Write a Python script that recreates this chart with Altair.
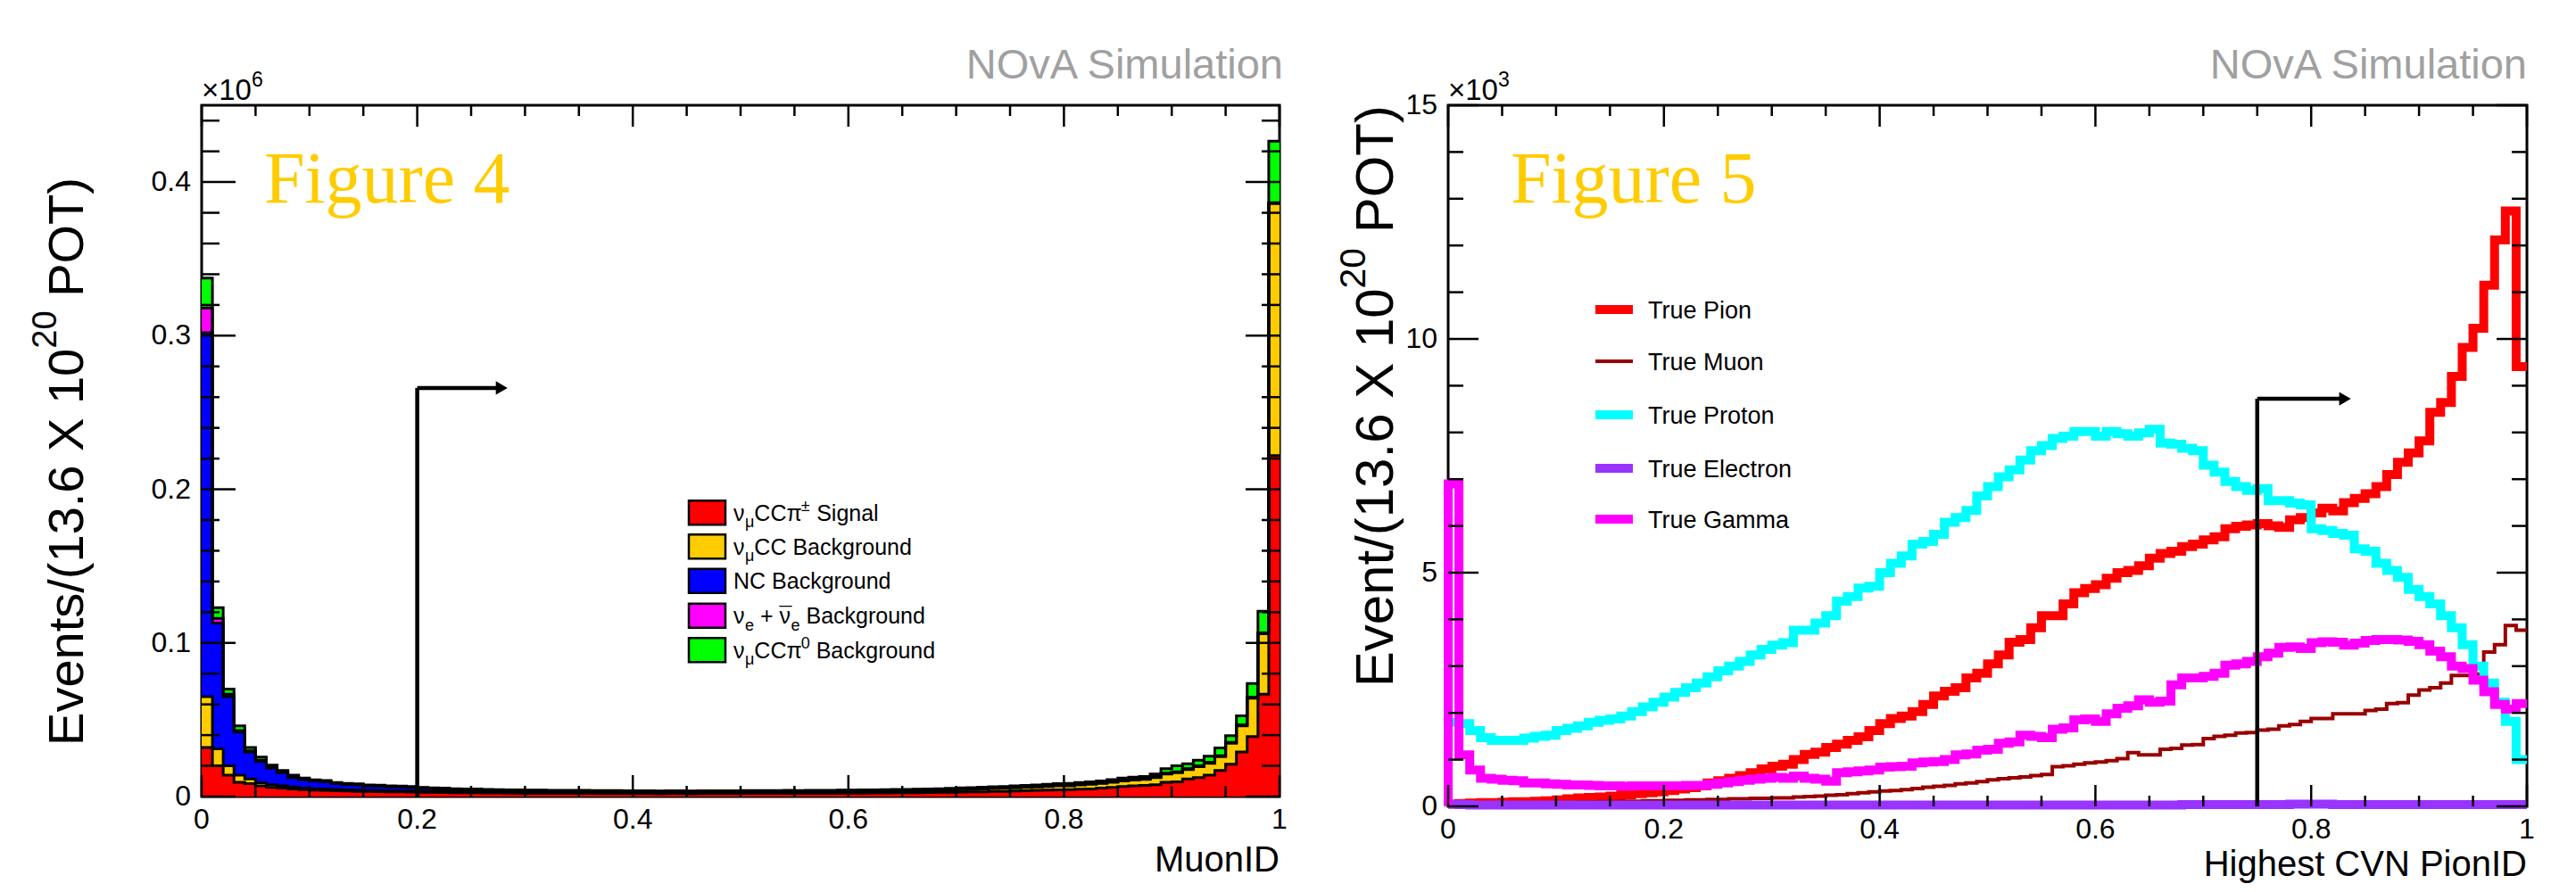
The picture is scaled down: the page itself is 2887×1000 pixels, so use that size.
import altair as alt
import pandas as pd

SANS = "Liberation Sans"
SERIF = "Liberation Serif"

# ---------------- Figure 4 : MuonID, stacked (units of 1e6 events per 0.01 bin)
muonid_bins = [round(i * 0.01, 2) for i in range(100)]
signal = [.032, .020, .014, .0093, .0084, .007, .006, .0055, .005, .0045,
          .0042, .004, .0038, .0036, .0034, .0033, .0032, .0031, .003, .0029,
          .0028, .0027, .0026, .0025, .0024, .0024, .0023, .0023, .0022, .0022,
          .0021, .0021, .0021, .002, .002, .002, .002, .0019, .0019, .0019,
          .0019, .0019, .0018, .0019, .0019, .0018, .0019, .0019, .0019, .0019,
          .002, .002, .002, .002, .0021, .002, .0021, .0021, .0021, .0022,
          .0022, .0022, .0023, .0023, .0024, .0024, .0025, .0026, .0027, .0028,
          .0029, .003, .0031, .0033, .0034, .0036, .0038, .004, .0042, .0044,
          .0045, .0048, .005, .0055, .006, .0065, .007, .0072, .0077, .0093,
          .0096, .0115, .0124, .014, .017, .021, .029, .039, .0666, .222]
numu_cc = [.033, .011, .006, .0047, .0031, .002, .0017, .0015, .0012, .001,
           .0009, .0009, .0008, .0008, .0008, .0007, .0007, .0007, .0007, .0007,
           .0006, .0006, .0006, .0006, .0006, .0006, .0006, .0005, .0006, .0006,
           .0006, .0006, .0005, .0006, .0006, .0006, .0005, .0006, .0006, .0006,
           .0006, .0006, .0006, .0006, .0006, .0006, .0006, .0006, .0006, .0006,
           .0006, .0006, .0007, .0007, .0007, .0007, .0008, .0008, .0008, .0009,
           .0009, .001, .001, .0011, .0011, .0012, .0013, .0013, .0014, .0015,
           .0016, .0017, .0018, .0019, .002, .0021, .0022, .0023, .0024, .0025,
           .0025, .0027, .003, .003, .0033, .0037, .0038, .004, .0047, .0053,
           .0059, .0061, .0071, .0077, .009, .0137, .017, .025, .0394, .164]
nc_bkg = [.237, .082, .045, .028, .0175, .014, .0109, .0085, .0062, .0055,
          .005, .0048, .0038, .0035, .0034, .003, .0029, .0026, .0025, .0023,
          .002, .0019, .0017, .0015, .0014, .0013, .0012, .0012, .0011, .0011,
          .001, .001, .001, .001, .0009, .0009, .0009, .0009, .0009, .0008,
          .0008, .0008, .0008, .0008, .0008, .0008, .0008, .0008, .0008, .0008,
          .0008, .0008, .0007, .0007, .0007, .0007, .0007, .0007, .0007, .0006,
          .0006, .0006, .0006, .0006, .0006, .0005, .0005, .0005, .0005, .0005,
          .0005, .0005, .0005, .0005, .0004, .0004, .0004, .0004, .0004, .0004,
          .0004, .0004, .0004, .0004, .0004, .0004, .0004, .0004, .0004, .0004,
          .0004, .0004, .0004, .0004, .0004, .0004, .0004, .0004, .0004, .0004]
nue_bkg = [.016, .003, .0016, .001, .0008, .0006, .0005, .0004, .0003, .0003,
           .0002, .0002, .0002, .0002, .0002, .0002, .0002, .0002, .0002, .0002,
           .0002, .0002, .0002, .0002, .0002, .0002, .0002, .0002, .0002, .0002,
           .0002, .0002, .0002, .0002, .0002, .0002, .0002, .0002, .0002, .0002,
           .0002, .0002, .0002, .0002, .0002, .0002, .0002, .0002, .0002, .0002,
           .0002, .0002, .0002, .0002, .0002, .0002, .0002, .0002, .0002, .0002,
           .0002, .0002, .0002, .0002, .0002, .0002, .0002, .0002, .0002, .0002,
           .0002, .0002, .0002, .0002, .0002, .0002, .0002, .0002, .0002, .0002,
           .0002, .0002, .0002, .0002, .0002, .0002, .0002, .0002, .0002, .0002,
           .0002, .0002, .0002, .0002, .0002, .0002, .0002, .0002, .0002, .0002]
numu_pi0 = [.0195, .007, .0034, .003, .0022, .0021, .0013, .0011, .0013, .0007,
            .0006, .0006, .0005, .0005, .0005, .0004, .0004, .0004, .0004, .0004,
            .0004, .0003, .0004, .0003, .0003, .0004, .0003, .0003, .0003, .0003,
            .0003, .0003, .0003, .0003, .0003, .0003, .0003, .0003, .0003, .0003,
            .0003, .0003, .0003, .0003, .0003, .0003, .0003, .0003, .0003, .0003,
            .0003, .0003, .0003, .0003, .0003, .0003, .0003, .0003, .0003, .0003,
            .0003, .0003, .0003, .0003, .0003, .0003, .0003, .0003, .0003, .0003,
            .0004, .0004, .0005, .0005, .0005, .0006, .0006, .0007, .0008, .0009,
            .001, .001, .001, .001, .0012, .0013, .0012, .0013, .0016, .003,
            .004, .0031, .0035, .004, .005, .0043, .006, .009, .014, .040]
stack_names = ["signal", "numucc", "nc", "nue", "pi0"]
stack_colors = ["#ff0000", "#ffcc00", "#0000ff", "#ff00ff", "#00ff00"]
left_cut = 0.2
left_arrow_y = 0.266
left_arrow_tip = 0.285
left_x_ticks = [0, 0.2, 0.4, 0.6, 0.8, 1.0]
left_x_labels = ["0", "0.2", "0.4", "0.6", "0.8", "1"]
left_y_ticks = [0, 0.1, 0.2, 0.3, 0.4]
left_y_labels = ["0", "0.1", "0.2", "0.3", "0.4"]

# ---------------- Figure 5 : Highest CVN PionID (units of 1e3 events per 0.01 bin)
pion_bins = [round(i * 0.01, 2) for i in range(100)]
pion = [.05, .06, .07, .08, .08, .09, .10, .10, .11, .12,
        .14, .16, .18, .19, .20, .22, .25, .27, .29, .31,
        .34, .37, .40, .44, .50, .55, .60, .66, .72, .80,
        .86, .90, 1.0, 1.11, 1.16, 1.26, 1.33, 1.41, 1.49, 1.62,
        1.77, 1.88, 1.93, 2.03, 2.18, 2.36, 2.46, 2.54, 2.75, 2.85,
        3.05, 3.24, 3.51, 3.57, 3.82, 4.08, 4.08, 4.33, 4.57, 4.66,
        4.74, 4.88, 5.0, 5.05, 5.15, 5.31, 5.41, 5.46, 5.56, 5.61,
        5.70, 5.77, 5.94, 5.99, 6.02, 6.05, 6.0, 5.97, 6.13, 6.18,
        6.28, 6.38, 6.32, 6.5, 6.59, 6.69, 6.84, 7.1, 7.36, 7.56,
        7.82, 8.43, 8.64, 9.2, 9.82, 10.23, 11.15, 12.12, 12.74, 9.41]
muon = [.03, .04, .04, .05, .05, .05, .06, .06, .07, .07,
        .08, .08, .09, .09, .10, .10, .11, .11, .12, .12,
        .13, .13, .14, .14, .15, .15, .16, .16, .17, .17,
        .18, .18, .20, .21, .22, .24, .25, .27, .29, .31,
        .33, .34, .36, .38, .41, .43, .45, .48, .50, .53,
        .57, .59, .61, .63, .66, .68, .85, .87, .90, .93,
        .95, .98, 1.02, 1.15, 1.10, 1.10, 1.22, 1.24, 1.31, 1.32,
        1.45, 1.50, 1.52, 1.57, 1.58, 1.63, 1.65, 1.72, 1.75, 1.82,
        1.88, 1.88, 1.98, 1.98, 1.98, 2.05, 2.08, 2.20, 2.22, 2.38,
        2.49, 2.54, 2.64, 2.80, 2.80, 2.83, 3.30, 3.46, 3.87, 3.77]
proton = [1.80, 1.77, 1.62, 1.47, 1.41, 1.41, 1.41, 1.46, 1.50, 1.52,
          1.62, 1.67, 1.72, 1.80, 1.84, 1.87, 1.93, 2.03, 2.13, 2.23,
          2.34, 2.44, 2.54, 2.64, 2.77, 2.90, 3.00, 3.10, 3.24, 3.36,
          3.45, 3.50, 3.77, 3.77, 3.92, 4.08, 4.39, 4.49, 4.67, 4.71,
          5.0, 5.2, 5.36, 5.61, 5.67, 5.82, 6.08, 6.18, 6.33, 6.64,
          6.84, 7.05, 7.2, 7.41, 7.61, 7.72, 7.87, 7.92, 8.02, 8.02,
          7.92, 8.02, 7.97, 7.92, 7.99, 8.07, 7.77, 7.75, 7.66, 7.61,
          7.3, 7.15, 6.95, 6.84, 6.76, 6.8, 6.54, 6.54, 6.49, 6.45,
          5.94, 5.9, 5.84, 5.8, 5.51, 5.46, 5.2, 5.05, 4.9, 4.64,
          4.49, 4.33, 4.08, 3.82, 3.46, 3.0, 2.64, 2.23, 1.82, 1.0]
electron = [.05, .04, .03, .03, .03, .03, .03, .03, .03, .03,
            .03, .03, .03, .03, .03, .03, .03, .03, .03, .03,
            .03, .03, .03, .03, .03, .03, .03, .03, .03, .03,
            .03, .03, .03, .03, .03, .03, .03, .03, .03, .03,
            .03, .03, .03, .03, .03, .03, .03, .03, .03, .03,
            .03, .03, .03, .03, .03, .03, .03, .03, .03, .03,
            .03, .03, .03, .03, .03, .03, .03, .03, .04, .04,
            .04, .04, .04, .04, .04, .04, .04, .04, .05, .05,
            .05, .05, .04, .04, .04, .04, .04, .04, .04, .04,
            .04, .04, .04, .04, .04, .04, .04, .04, .04, .04]
gamma = [6.9, 1.1, .78, .6, .58, .56, .55, .5, .5, .48,
         .47, .46, .46, .45, .44, .44, .43, .44, .44, .44,
         .44, .44, .45, .45, .47, .5, .53, .56, .58, .6,
         .62, .6, .65, .6, .58, .54, .72, .74, .76, .78,
         .84, .85, .86, .93, .95, .96, 1.0, 1.1, 1.12, 1.2,
         1.22, 1.35, 1.38, 1.52, 1.5, 1.47, 1.65, 1.68, 1.85, 1.87,
         1.82, 1.98, 2.1, 2.15, 2.28, 2.23, 2.25, 2.6, 2.75, 2.75,
         2.78, 2.85, 3.02, 3.05, 3.1, 3.2, 3.28, 3.4, 3.41, 3.38,
         3.5, 3.52, 3.51, 3.45, 3.49, 3.55, 3.57, 3.57, 3.56, 3.53,
         3.46, 3.32, 3.2, 3.0, 2.95, 2.7, 2.45, 2.18, 2.08, 2.2]
series_names = ["True Pion", "True Muon", "True Proton", "True Electron", "True Gamma"]
series_colors = ["#ff0000", "#990000", "#00ffff", "#9933ff", "#ff00ff"]
series_widths = [10, 4, 10, 10, 10]
right_cut = 0.75
right_arrow_y = 8.72
right_arrow_tip = 0.838
right_x_ticks = [0, 0.2, 0.4, 0.6, 0.8, 1.0]
right_x_labels = ["0", "0.2", "0.4", "0.6", "0.8", "1"]
right_y_ticks = [0, 5, 10, 15]
right_y_labels = ["0", "5", "10", "15"]

# ---------------- layout (pixels)
W1, H1, Y1MAX = 1208, 775, 0.45
W2, H2, Y2MAX = 1209, 786, 15.0
TOP = 108
LBL = 32

CW = {' ': .278, '+': .584, 'B': .667, 'C': .722, 'N': .722, 'S': .667, 'a': .556,
      'c': .5, 'd': .556, 'e': .556, 'g': .556, 'i': .222, 'k': .5, 'l': .222,
      'n': .556, 'o': .556, 'r': .333, 'u': .556, 'ν': .52, 'μ': .576, 'π': .65,
      '±': .584, '0': .556, '1': .556, '2': .556, '3': .556, '6': .556, '.': .278,
      'E': .667, 'v': .5, 't': .278, 's': .5, '/': .278, '(': .333, ')': .333,
      'X': .667, 'P': .667, 'O': .778, 'T': .611, '×': .584, '¯': 0.0}


def tw(s, fs):
    return sum(CW.get(c, .556) for c in s) * fs


def tick_layers(xs, ys, W, H, xmaj, xmin, ymaj, ymin, xl, yl):
    out = []
    for vals, L in ((xmaj, xl[0]), (xmin, xl[1])):
        d = pd.DataFrame({"x": vals})
        b = alt.Chart(d).mark_rule(color="black", strokeWidth=2.5)
        out.append(b.encode(x=alt.X("x:Q", scale=xs, axis=None), y=alt.value(H), y2=alt.value(H - L)))
        out.append(b.encode(x=alt.X("x:Q", scale=xs, axis=None), y=alt.value(0), y2=alt.value(L)))
    for vals, L in ((ymaj, yl[0]), (ymin, yl[1])):
        d = pd.DataFrame({"y": vals})
        b = alt.Chart(d).mark_rule(color="black", strokeWidth=2.5)
        out.append(b.encode(y=alt.Y("y:Q", scale=ys, axis=None), x=alt.value(0), x2=alt.value(L)))
        out.append(b.encode(y=alt.Y("y:Q", scale=ys, axis=None), x=alt.value(W), x2=alt.value(W - L)))
    return out


def label_layers(xs, ys, H, xt, xl, yt, yl):
    dx = pd.DataFrame({"x": xt, "t": xl})
    dy = pd.DataFrame({"y": yt, "t": yl})
    lx = alt.Chart(dx).mark_text(font=SANS, fontSize=LBL, align="center", baseline="top",
                                 color="black").encode(
        x=alt.X("x:Q", scale=xs, axis=None), y=alt.value(H + 11), text="t:N")
    ly = alt.Chart(dy).mark_text(font=SANS, fontSize=LBL, align="right", baseline="middle",
                                 color="black").encode(
        y=alt.Y("y:Q", scale=ys, axis=None), x=alt.value(-12), text="t:N")
    return [lx, ly]


def txt(text, x, y, size, **kw):
    return alt.Chart(pd.DataFrame({"a": [0]})).mark_text(
        text=text, fontSize=size, font=kw.pop("font", SANS), **kw
    ).encode(x=alt.value(x), y=alt.value(y))


def multiplier(x, y, main, sup, fs=33):
    """'x10' with a raised exponent, placed in pixel space above the frame."""
    return [txt(main, x, y, fs, align="left", baseline="alphabetic", color="black"),
            txt(sup, x + tw(main, fs), y - 0.45 * fs, fs * 0.7, align="left",
                baseline="alphabetic", color="black")]


def vtitle(x, y_bottom, p1, sup, p2, fs):
    """Rotated (bottom-to-top) title 'p1' + superscript + ' ' + 'p2'; starts at y_bottom."""
    fs_s = fs * 0.68
    y2 = y_bottom - tw(p1, fs)
    y3 = y2 - tw(sup, fs_s) - tw(" ", fs)
    return [txt(p1, x, y_bottom, fs, angle=270, align="left", baseline="middle", color="black"),
            txt(sup, x - 0.42 * fs, y2, fs_s, angle=270, align="left", baseline="middle",
                color="black"),
            txt(p2, x, y3, fs, angle=270, align="left", baseline="middle", color="black")]


def title_len(p1, sup, p2, fs):
    return tw(p1, fs) + tw(sup, fs * 0.68) + tw(" ", fs) + tw(p2, fs)


def bounds_rule(x1, x2):
    return alt.Chart(pd.DataFrame({"a": [0]})).mark_rule(stroke="white", strokeOpacity=0).encode(
        x=alt.value(x1), x2=alt.value(x2), y=alt.value(-TOP), y2=alt.value(-TOP + 1))


xs1 = alt.Scale(domain=[0, 1], nice=False, zero=False)
ys1 = alt.Scale(domain=[0, Y1MAX], nice=False, zero=False)
xs2 = alt.Scale(domain=[0, 1], nice=False, zero=False)
ys2 = alt.Scale(domain=[0, Y2MAX], nice=False, zero=False)

x_major = [0, 0.2, 0.4, 0.6, 0.8, 1.0]
x_minor = [round(i * 0.05, 2) for i in range(21) if i % 4 != 0]

# ================= LEFT PANEL =================
rows = []
cum = [0.0] * 100
for name, vals in zip(stack_names, [signal, numu_cc, nc_bkg, nue_bkg, numu_pi0]):
    hi = [c + v for c, v in zip(cum, vals)]
    for i in range(100):
        rows.append(dict(comp=name, x=muonid_bins[i], lo=cum[i], hi=hi[i]))
    rows.append(dict(comp=name, x=1.0, lo=cum[99], hi=hi[99]))
    cum = hi
dfl = pd.DataFrame(rows)
cscale1 = alt.Scale(domain=stack_names, range=stack_colors)

areas = alt.Chart(dfl).mark_area(interpolate="step-after").encode(
    x=alt.X("x:Q", scale=xs1, axis=None),
    y=alt.Y("hi:Q", scale=ys1, axis=None),
    y2="lo:Q",
    color=alt.Color("comp:N", scale=cscale1, legend=None),
)
outlines = alt.Chart(dfl).mark_line(interpolate="step-after", color="black", strokeWidth=3).encode(
    x=alt.X("x:Q", scale=xs1, axis=None),
    y=alt.Y("hi:Q", scale=ys1, axis=None),
    detail="comp:N",
)

arr1 = pd.DataFrame({"x": [left_cut], "y0": [0.0], "y": [left_arrow_y],
                     "x2": [left_arrow_tip - 14 / W1], "xh": [left_arrow_tip - 8 / W1]})
a1v = alt.Chart(arr1).mark_rule(color="black", strokeWidth=4.5).encode(
    x=alt.X("x:Q", scale=xs1, axis=None), y=alt.Y("y0:Q", scale=ys1, axis=None), y2="y:Q")
a1h = alt.Chart(arr1).mark_rule(color="black", strokeWidth=4.5).encode(
    x=alt.X("x:Q", scale=xs1, axis=None), x2="x2:Q", y=alt.Y("y:Q", scale=ys1, axis=None))
a1p = alt.Chart(arr1).mark_point(shape="triangle-right", filled=True, color="black",
                                 size=230, opacity=1).encode(
    x=alt.X("xh:Q", scale=xs1, axis=None), y=alt.Y("y:Q", scale=ys1, axis=None))

# legend (left)
leg_rows_y = [456.7, 494.7, 533.3, 572.3, 610.7]
leg_labels = [
    [("ν", "n"), ("μ", "sub"), ("CCπ", "n"), ("±", "sup"), (" Signal", "n")],
    [("ν", "n"), ("μ", "sub"), ("CC Background", "n")],
    [("NC Background", "n")],
    [("ν", "n"), ("e", "sub"), (" + ", "n"), ("¯", "n"), ("ν", "n"), ("e", "sub"),
     (" Background", "n")],
    [("ν", "n"), ("μ", "sub"), ("CCπ", "n"), ("0", "sup"), (" Background", "n")],
]
FS_L, FS_S = 25, 18
boxes, pieces_n, pieces_s = [], [], []
for name, yc, pcs in zip(stack_names, leg_rows_y, leg_labels):
    boxes.append(dict(comp=name, x=546 / W1, x2=587 / W1,
                      y=(H1 - (yc - 13.5)) / H1 * Y1MAX, y2=(H1 - (yc + 13.5)) / H1 * Y1MAX))
    px = 596.0
    base = yc + 0.36 * FS_L
    for t, kind in pcs:
        if t.startswith(" "):
            px += tw(" ", FS_L)
        core = t.strip()
        trail = t.endswith(" ")
        if kind == "n":
            pieces_n.append(dict(x=px / W1, y=(H1 - base) / H1 * Y1MAX, t=core))
            px += tw(core, FS_L)
        else:
            py = base + 0.3 * FS_L if kind == "sub" else base - 0.42 * FS_L
            pieces_s.append(dict(x=px / W1, y=(H1 - py) / H1 * Y1MAX, t=core))
            px += tw(core, FS_S)
        if trail:
            px += tw(" ", FS_L)
leg_box = alt.Chart(pd.DataFrame(boxes)).mark_rect(stroke="black", strokeWidth=2.5).encode(
    x=alt.X("x:Q", scale=xs1, axis=None), x2="x2:Q",
    y=alt.Y("y:Q", scale=ys1, axis=None), y2="y2:Q",
    color=alt.Color("comp:N", scale=cscale1, legend=None))
leg_tn = alt.Chart(pd.DataFrame(pieces_n)).mark_text(
    font=SANS, fontSize=FS_L, align="left", baseline="alphabetic", color="black").encode(
    x=alt.X("x:Q", scale=xs1, axis=None), y=alt.Y("y:Q", scale=ys1, axis=None), text="t:N")
leg_ts = alt.Chart(pd.DataFrame(pieces_s)).mark_text(
    font=SANS, fontSize=FS_S, align="left", baseline="alphabetic", color="black").encode(
    x=alt.X("x:Q", scale=xs1, axis=None), y=alt.Y("y:Q", scale=ys1, axis=None), text="t:N")

ticks1 = tick_layers(xs1, ys1, W1, H1, x_major, x_minor,
                     [0, 0.1, 0.2, 0.3, 0.4],
                     [round(i * 0.02, 2) for i in range(1, 23) if i % 5 != 0],
                     (24, 12), (38, 20))
labels1 = label_layers(xs1, ys1, H1, left_x_ticks, left_x_labels, left_y_ticks, left_y_labels)

FS_T1 = 56
T1 = ("Events/(13.6 X 10", "20", "POT)")
title1 = vtitle(-150, H1 / 2 + 12 + title_len(*T1, FS_T1) / 2, *T1, FS_T1)

left = alt.layer(
    areas, outlines, *ticks1, *labels1, a1v, a1h, a1p, leg_box, leg_tn, leg_ts,
    txt("NOvA Simulation", W1 + 4, -30, 47, align="right", baseline="alphabetic", color="#a0a0a0"),
    *multiplier(0, -6, "×10", "6"),
    txt("Figure 4", 70, 84, 82, font=SERIF, align="left", baseline="middle", color="#ffcc00"),
    *title1,
    txt("MuonID", W1, H1 + 84, 40, align="right", baseline="alphabetic", color="black"),
    bounds_rule(-216, W1 + 20),
).properties(width=W1, height=H1)

# ================= RIGHT PANEL =================
layers2 = []
cscale2 = alt.Scale(domain=series_names, range=series_colors)
for name, vals, sw in zip(series_names, [pion, muon, proton, electron, gamma], series_widths):
    xs_ = [0.0] + pion_bins + [1.0]
    ys_ = [0.0] + vals + [vals[-1]]
    d = pd.DataFrame({"x": xs_, "y": ys_, "k": list(range(len(xs_))), "s": name})
    layers2.append(alt.Chart(d).mark_line(interpolate="step-after", strokeWidth=sw,
                                          strokeJoin="miter", strokeCap="butt").encode(
        x=alt.X("x:Q", scale=xs2, axis=None),
        y=alt.Y("y:Q", scale=ys2, axis=None),
        order="k:Q",
        color=alt.Color("s:N", scale=cscale2, legend=None)))

arr2 = pd.DataFrame({"x": [right_cut], "y0": [0.0], "y": [right_arrow_y],
                     "x2": [right_arrow_tip - 14 / W2], "xh": [right_arrow_tip - 8 / W2]})
a2v = alt.Chart(arr2).mark_rule(color="black", strokeWidth=4.5).encode(
    x=alt.X("x:Q", scale=xs2, axis=None), y=alt.Y("y0:Q", scale=ys2, axis=None), y2="y:Q")
a2h = alt.Chart(arr2).mark_rule(color="black", strokeWidth=4.5).encode(
    x=alt.X("x:Q", scale=xs2, axis=None), x2="x2:Q", y=alt.Y("y:Q", scale=ys2, axis=None))
a2p = alt.Chart(arr2).mark_point(shape="triangle-right", filled=True, color="black",
                                 size=230, opacity=1).encode(
    x=alt.X("xh:Q", scale=xs2, axis=None), y=alt.Y("y:Q", scale=ys2, axis=None))

leg2_y = [229, 287, 347, 407, 464]
leg2 = pd.DataFrame({
    "s": series_names,
    "x": [165 / W2] * 5, "x2": [207 / W2] * 5, "xt": [224 / W2] * 5,
    "y": [(H2 - v) / H2 * Y2MAX for v in leg2_y],
    "yt": [(H2 - (v + 10)) / H2 * Y2MAX for v in leg2_y],
    "sw": series_widths,
})
leg2_lines = alt.Chart(leg2).mark_rule().encode(
    x=alt.X("x:Q", scale=xs2, axis=None), x2="x2:Q", y=alt.Y("y:Q", scale=ys2, axis=None),
    color=alt.Color("s:N", scale=cscale2, legend=None),
    strokeWidth=alt.StrokeWidth("sw:Q", scale=None, legend=None))
leg2_text = alt.Chart(leg2).mark_text(font=SANS, fontSize=27, align="left",
                                      baseline="alphabetic", color="black").encode(
    x=alt.X("xt:Q", scale=xs2, axis=None), y=alt.Y("yt:Q", scale=ys2, axis=None), text="s:N")

ticks2 = tick_layers(xs2, ys2, W2, H2, x_major, x_minor, [0, 5, 10, 15],
                     [i for i in range(1, 15) if i % 5 != 0], (24, 12), (34, 17))
labels2 = label_layers(xs2, ys2, H2, right_x_ticks, right_x_labels, right_y_ticks, right_y_labels)

FS_T2 = 60
T2 = ("Event/(13.6 X 10", "20", "POT)")
title2 = vtitle(-80, title_len(*T2, FS_T2), *T2, FS_T2)

right = alt.layer(
    *layers2, *ticks2, *labels2, a2v, a2h, a2p, leg2_lines, leg2_text,
    txt("NOvA Simulation", W2, -30, 47, align="right", baseline="alphabetic", color="#a0a0a0"),
    *multiplier(0, -6, "×10", "3"),
    txt("Figure 5", 70, 84, 82, font=SERIF, align="left", baseline="middle", color="#ffcc00"),
    *title2,
    txt("Highest CVN PionID", W2, H2 + 78, 40, align="right", baseline="alphabetic", color="black"),
    bounds_rule(-135, W2 + 10),
).properties(width=W2, height=H2)

chart = alt.hconcat(left, right, spacing=30).resolve_scale(
    x="independent", y="independent", color="independent"
).configure_view(stroke="black", strokeWidth=3).properties(padding=0)

chart.save("out.html", embed_options={"renderer": "svg", "actions": False})
